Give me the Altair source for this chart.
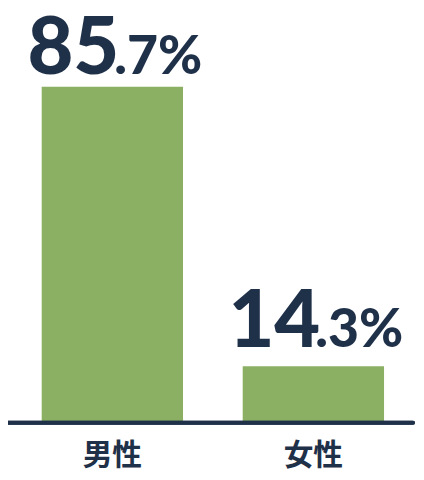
import altair as alt
import pandas as pd

categories = ["男性", "女性"]
values = [85.7, 14.3]
big_parts = ["85", "14"]
small_parts = [".7%", ".3%"]

NAVY = "#1F3049"
GREEN = "#8BB063"

df = pd.DataFrame({"cat": categories, "val": values, "big": big_parts, "small": small_parts})

x = alt.X("cat:N", sort=categories, title=None,
          scale=alt.Scale(paddingInner=0.297, paddingOuter=0.1535, align=0.514),
          axis=alt.Axis(domain=False, ticks=False, labelAngle=0, labelPadding=19,
                        labelFont="Noto Sans CJK JP", labelFontWeight="bold",
                        labelFontSize=30, labelColor=NAVY))
y = alt.Y("val:Q", scale=alt.Scale(domain=[0, 105.2]), axis=None)

base = alt.Chart(df).encode(x=x, y=y)

bars = base.mark_bar(color=GREEN)

def labels(cat, dy):
    b = base.transform_filter(alt.datum.cat == cat)
    big = b.mark_text(font="Lato", fontWeight=900, fontSize=80, color=NAVY,
                      align="right", baseline="alphabetic", dx=7, dy=dy).encode(text="big:N")
    small = b.mark_text(font="Lato", fontWeight=900, fontSize=54, color=NAVY,
                        align="left", baseline="alphabetic", dx=2, dy=dy).encode(text="small:N")
    return big + small

rule = alt.Chart(df).mark_rule(color=NAVY, strokeWidth=4, strokeCap="round").encode(
    x=alt.value(-2), x2=alt.value(407), y=alt.value(416.5))

chart = alt.layer(bars, labels("男性", -13), labels("女性", -19), rule).properties(
    width=408, height=416,
    autosize=alt.AutoSizeParams(type="none"),
    padding={"left": 2, "top": 0, "right": 2, "bottom": 52},
).configure_view(stroke=None)

chart.save("out.html", embed_options={"renderer": "svg", "actions": False})
